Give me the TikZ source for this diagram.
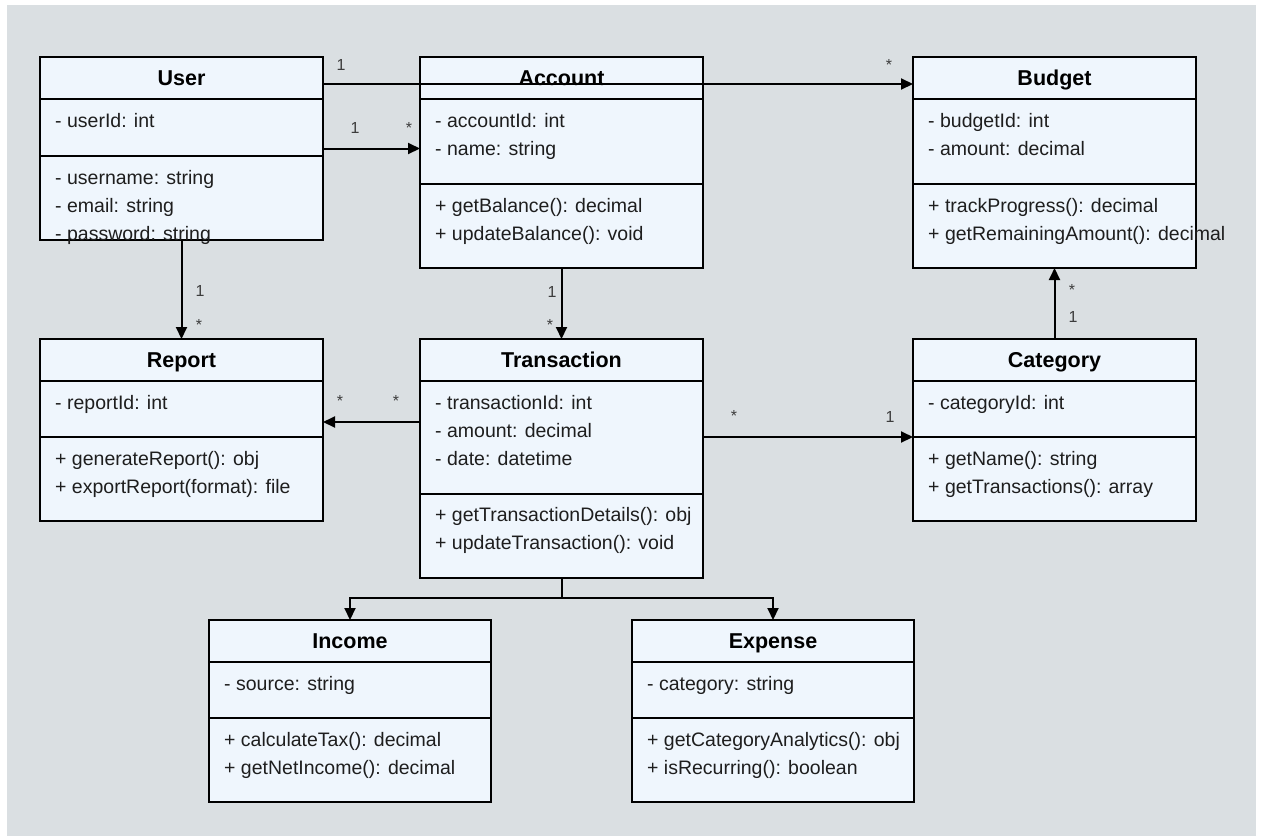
\documentclass[tikz,border=0pt]{standalone}
\usepackage{fontspec}
\setmainfont{Liberation Sans}
\usetikzlibrary{arrows.meta,calc}

\definecolor{canvas}{RGB}{218,223,226}
\definecolor{boxfill}{RGB}{239,246,253}
\definecolor{bodytext}{RGB}{30,30,30}
\definecolor{multtext}{RGB}{60,60,60}

\tikzset{
  classbox/.style={draw=black, line width=2pt, fill=boxfill, anchor=north west,
                   inner sep=0pt, outer sep=0pt},
  classrule/.style={draw=black, line width=2pt},
  classtitle/.style={anchor=base, inner sep=0pt, font=\fontsize{21.5}{24}\selectfont\bfseries, text=black},
  member/.style={anchor=base west, inner sep=0pt, font=\fontsize{19.5}{22}\selectfont, text=bodytext},
  mult/.style={anchor=base, inner sep=0pt, font=\fontsize{16}{18}\selectfont, text=multtext},
  assoc/.style={draw=black, line width=2pt, -{Triangle[length=12pt,width=11pt]}}
}

% horizontal compartment line of a class box, #2 below its top edge
\newcommand\compartment[2]{%
  \draw[classrule] ($(#1.north west)+(0,#2)$) -- ($(#1.north east)+(0,#2)$);}

\begin{document}
\begin{tikzpicture}[x=1pt,y=-1pt]
\useasboundingbox (0,0) rectangle (1261,836);
\fill[white] (0,0) rectangle (1261,836);
\fill[canvas] (7,5) rectangle (1256,836);

% ---------- User ----------
\node[classbox, minimum width=283pt, minimum height=183pt] (user) at (40,57) {};
\compartment{user}{42}
\compartment{user}{98.5}
\node[classtitle] (user-t) at (181.5,85.5) {User};
\node[member] (user-a1) at (55,127.5) {- userId: int};
\node[member] (user-a2) at (55,184) {- username: string};
\node[member] (user-a3) at (55,212) {- email: string};
\node[member] (user-a4) at (55,240) {- password: string};

% ---------- Account ----------
\node[classbox, minimum width=283pt, minimum height=211pt] (account) at (420,57) {};
\compartment{account}{42}
\compartment{account}{127}
\node[classtitle] (account-t) at (561.5,85) {Account};
\node[member] (account-a1) at (435,127.5) {- accountId: int};
\node[member] (account-a2) at (435,155.5) {- name: string};
\node[member] (account-m1) at (435,212) {+ getBalance(): decimal};
\node[member] (account-m2) at (435,240) {+ updateBalance(): void};

% ---------- Budget ----------
\node[classbox, minimum width=283pt, minimum height=211pt] (budget) at (913,57) {};
\compartment{budget}{42}
\compartment{budget}{127}
\node[classtitle] (budget-t) at (1054.5,85) {Budget};
\node[member] (budget-a1) at (928,127.5) {- budgetId: int};
\node[member] (budget-a2) at (928,155.5) {- amount: decimal};
\node[member] (budget-m1) at (928,212) {+ trackProgress(): decimal};
\node[member] (budget-m2) at (928,240) {+ getRemainingAmount(): decimal};

% ---------- Report ----------
\node[classbox, minimum width=283pt, minimum height=182pt] (report) at (40,339) {};
\compartment{report}{42}
\compartment{report}{98}
\node[classtitle] (report-t) at (181.5,367) {Report};
\node[member] (report-a1) at (55,409) {- reportId: int};
\node[member] (report-m1) at (55,465) {+ generateReport(): obj};
\node[member] (report-m2) at (55,493) {+ exportReport(format): file};

% ---------- Transaction ----------
\node[classbox, minimum width=283pt, minimum height=238.5pt] (trans) at (420,339) {};
\compartment{trans}{42}
\compartment{trans}{154.5}
\node[classtitle] (trans-t) at (561.5,367) {Transaction};
\node[member] (trans-a1) at (435,409) {- transactionId: int};
\node[member] (trans-a2) at (435,437) {- amount: decimal};
\node[member] (trans-a3) at (435,465) {- date: datetime};
\node[member] (trans-m1) at (435,521.5) {+ getTransactionDetails(): obj};
\node[member] (trans-m2) at (435,549.5) {+ updateTransaction(): void};

% ---------- Category ----------
\node[classbox, minimum width=283pt, minimum height=182pt] (category) at (913,339) {};
\compartment{category}{42}
\compartment{category}{98}
\node[classtitle] (category-t) at (1054.5,367) {Category};
\node[member] (category-a1) at (928,409) {- categoryId: int};
\node[member] (category-m1) at (928,465) {+ getName(): string};
\node[member] (category-m2) at (928,493) {+ getTransactions(): array};

% ---------- Income ----------
\node[classbox, minimum width=282pt, minimum height=182pt] (income) at (209,620) {};
\compartment{income}{42}
\compartment{income}{98}
\node[classtitle] (income-t) at (350,648) {Income};
\node[member] (income-a1) at (224,690) {- source: string};
\node[member] (income-m1) at (224,746.5) {+ calculateTax(): decimal};
\node[member] (income-m2) at (224,774.5) {+ getNetIncome(): decimal};

% ---------- Expense ----------
\node[classbox, minimum width=282pt, minimum height=182pt] (expense) at (632,620) {};
\compartment{expense}{42}
\compartment{expense}{98}
\node[classtitle] (expense-t) at (773,648) {Expense};
\node[member] (expense-a1) at (647,690) {- category: string};
\node[member] (expense-m1) at (647,746.5) {+ getCategoryAnalytics(): obj};
\node[member] (expense-m2) at (647,774.5) {+ isRecurring(): boolean};

% ---------- associations ----------
\draw[assoc] ($(user.north east)+(0,27)$) -- ($(budget.north west)+(0,27)$);
\node[mult] (m-ub1) at (341,70.5) {1};
\node[mult] (m-ub2) at (889,70.5) {*};

\draw[assoc] ($(user.north east)+(0,91.5)$) -- ($(account.north west)+(0,91.5)$);
\node[mult] (m-ua1) at (355,133.5) {1};
\node[mult] (m-ua2) at (409,133) {*};

\draw[assoc] (user.south) -- (report.north);
\node[mult] (m-ur1) at (200,296.5) {1};
\node[mult] (m-ur2) at (199,330.5) {*};

\draw[assoc] (account.south) -- (trans.north);
\node[mult] (m-at1) at (552,297.5) {1};
\node[mult] (m-at2) at (550,330.5) {*};

\draw[assoc] ($(trans.north west)+(0,83)$) -- ($(report.north east)+(0,83)$);
\node[mult] (m-tr1) at (340,406.7) {*};
\node[mult] (m-tr2) at (396,406.7) {*};

\draw[assoc] ($(trans.north east)+(0,98)$) -- ($(category.north west)+(0,98)$);
\node[mult] (m-tc1) at (734,421.7) {*};
\node[mult] (m-tc2) at (890,422.5) {1};

\draw[assoc] (category.north) -- (budget.south);
\node[mult] (m-cb1) at (1072,295.7) {*};
\node[mult] (m-cb2) at (1073,322.5) {1};

% ---------- subclasses ----------
\coordinate (split) at ($(trans.south)+(0,20.5)$);
\draw[line width=2pt] (trans.south) -- (split);
\draw[assoc] (split) -| (income.north);
\draw[assoc] (split) -| (expense.north);
\end{tikzpicture}
\end{document}
